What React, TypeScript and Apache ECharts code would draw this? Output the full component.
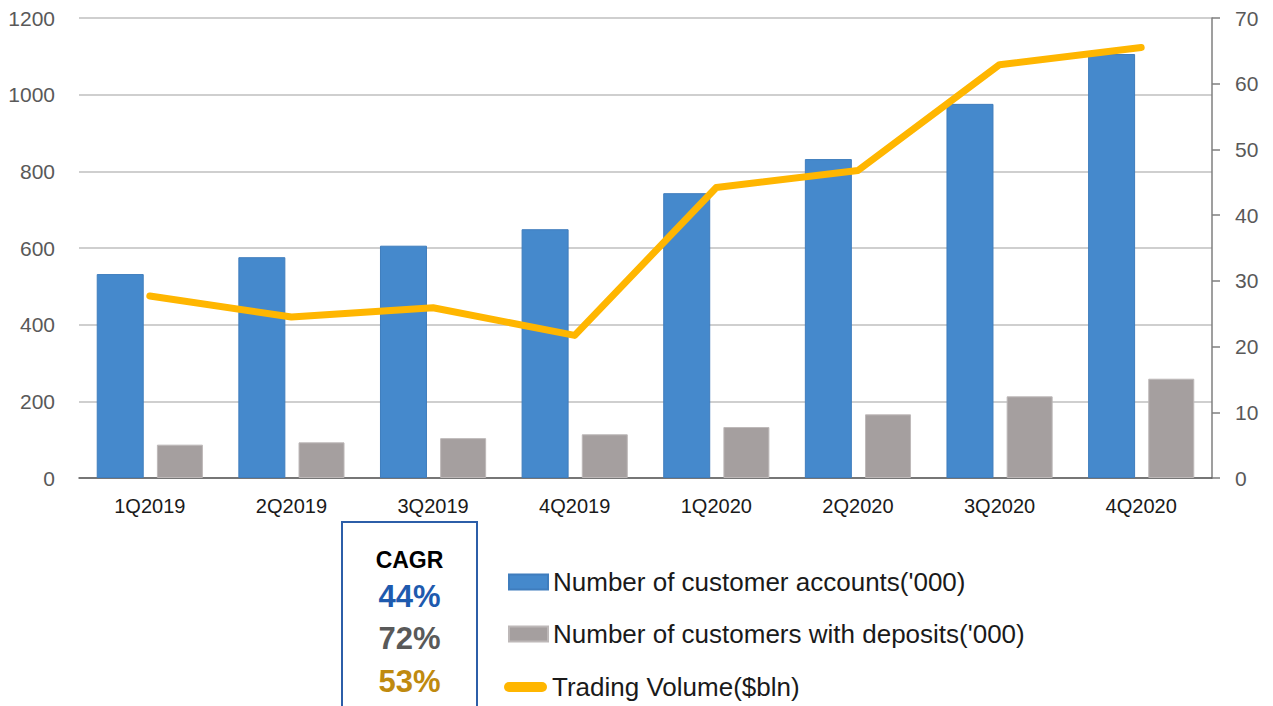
import React, { useEffect, useRef } from "react";
import * as echarts from "echarts";

const categories = ["1Q2019", "2Q2019", "3Q2019", "4Q2019", "1Q2020", "2Q2020", "3Q2020", "4Q2020"];
const customerAccounts = [532, 576, 606, 649, 743, 832, 976, 1106];
const customersWithDeposits = [87, 93, 104, 114, 133, 166, 213, 259];
const tradingVolume = [27.7, 24.5, 25.9, 21.7, 44.2, 46.8, 62.9, 65.5];
const leftTicks = { min: 0, max: 1200, interval: 200 };
const rightTicks = { min: 0, max: 70, interval: 10 };
const seriesNames = [
  "Number of customer accounts('000)",
  "Number of customers with deposits('000)",
  "Trading Volume($bln)",
];
const cagrTitle = "CAGR";
const cagrValues = ["44%", "72%", "53%"];

const FONT = "'Liberation Sans', Arial, sans-serif";
const BLUE = "#4589CC";
const GRAY = "#A59F9F";
const YELLOW = "#FFB600";
const cagrColors = ["#1E5AAE", "#595959", "#BF8A0F"];

export default function App() {
  const ref = useRef<HTMLDivElement>(null);
  useEffect(() => {
    if (!ref.current) return;
    const chart = echarts.init(ref.current, undefined, { renderer: "svg" });
    const legendBase = {
      orient: "horizontal",
      padding: 0,
      itemWidth: 39,
      itemHeight: 15,
      selectedMode: false,
      textStyle: { fontFamily: FONT, fontSize: 26, color: "#1a1a1a", lineHeight: 26 },
    };
    chart.setOption({
      animation: false,
      textStyle: { fontFamily: FONT },
      grid: { left: 79, right: 61, top: 18, bottom: 228, containLabel: false },
      xAxis: {
        type: "category",
        data: categories,
        axisLine: { show: true, lineStyle: { color: "#595959", width: 1.5 } },
        axisTick: { show: false },
        axisLabel: { fontFamily: FONT, fontSize: 20, color: "#1a1a1a", margin: 18 },
      },
      yAxis: [
        {
          type: "value",
          min: leftTicks.min,
          max: leftTicks.max,
          interval: leftTicks.interval,
          axisLine: { show: false },
          axisTick: { show: false },
          axisLabel: {
            fontFamily: FONT,
            fontSize: 21,
            color: "#595959",
            margin: 24,
            formatter: (v: number) => String(v),
          },
          splitLine: { show: true, lineStyle: { color: "#BFBFBF", width: 1.5 } },
        },
        {
          type: "value",
          position: "right",
          min: rightTicks.min,
          max: rightTicks.max,
          interval: rightTicks.interval,
          axisLine: { show: true, lineStyle: { color: "#7F7F7F", width: 1.5 } },
          axisTick: { show: true, inside: false, length: 8, lineStyle: { color: "#7F7F7F", width: 1.5 } },
          axisLabel: {
            fontFamily: FONT,
            fontSize: 21,
            color: "#595959",
            margin: 23,
            formatter: (v: number) => String(v),
          },
          splitLine: { show: false },
        },
      ],
      legend: [
        { ...legendBase, left: 508, top: 569, data: [{ name: seriesNames[0], icon: "rect" }] },
        { ...legendBase, left: 508, top: 621, data: [{ name: seriesNames[1], icon: "rect" }] },
        {
          ...legendBase,
          left: 504,
          top: 674,
          itemWidth: 43,
          itemHeight: 10,
          data: [{ name: seriesNames[2], icon: "path://M5,0 L38,0 A5,5 0 0 1 38,10 L5,10 A5,5 0 0 1 5,0 Z" }],
        },
      ],
      series: [
        {
          name: seriesNames[0],
          type: "bar",
          data: customerAccounts,
          barWidth: 47,
          barGap: "28%",
          itemStyle: { color: BLUE, borderColor: "#3F7DBD", borderWidth: 1 },
        },
        {
          name: seriesNames[1],
          type: "bar",
          data: customersWithDeposits,
          barWidth: 46,
          barGap: "28%",
          itemStyle: { color: GRAY, borderColor: "#BDB8B8", borderWidth: 1 },
        },
        {
          name: seriesNames[2],
          type: "line",
          yAxisIndex: 1,
          data: tradingVolume,
          showSymbol: false,
          symbol: "none",
          z: 5,
          itemStyle: { color: YELLOW },
          lineStyle: { color: YELLOW, width: 7, cap: "round", join: "round" },
        },
      ],
      graphic: [
        {
          type: "rect",
          shape: { x: 342, y: 522, width: 135, height: 200 },
          style: { fill: "none", stroke: "#2C5EA8", lineWidth: 2 },
          z: 10,
        },
        {
          type: "text",
          x: 409.5,
          y: 560,
          style: {
            text: cagrTitle,
            fontFamily: FONT,
            fontSize: 23,
            fontWeight: "bold",
            fill: "#000000",
            align: "center",
            verticalAlign: "middle",
          },
          z: 10,
        },
        ...cagrValues.map((v, i) => ({
          type: "text",
          x: 409.5,
          y: [596, 638, 681][i],
          style: {
            text: v,
            fontFamily: FONT,
            fontSize: 31,
            fontWeight: "bold",
            fill: cagrColors[i],
            align: "center",
            verticalAlign: "middle",
          },
          z: 10,
        })),
      ],
    });
    return () => chart.dispose();
  }, []);
  return (
    <div
      ref={ref}
      style={{ position: "fixed", left: 0, top: 0, width: 1273, height: 706, background: "#ffffff" }}
    />
  );
}
